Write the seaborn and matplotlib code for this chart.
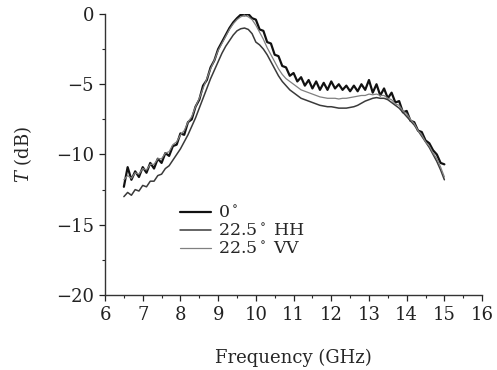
import numpy as np
import pandas as pd
import matplotlib
matplotlib.use("Agg")
import matplotlib.pyplot as plt
import seaborn as sns
from matplotlib.ticker import MultipleLocator

sns.set_theme(style="ticks")
plt.rcParams['font.family'] = ['DejaVu Serif']
plt.rcParams['mathtext.fontset'] = 'dejavuserif'

freq = [round(6.5 + 0.1 * i, 1) for i in range(86)]

t_0deg = [-12.3, -10.9, -11.8, -11.2, -11.6, -10.9, -11.3, -10.6, -11.0, -10.3,
          -10.6, -9.9, -10.1, -9.4, -9.3, -8.5, -8.6, -7.7, -7.5, -6.6,
          -6.1, -5.1, -4.7, -3.8, -3.3, -2.5, -2.0, -1.5, -1.0, -0.6,
          -0.3, -0.05, -0.1, 0.0, -0.3, -0.4, -1.1, -1.2, -2.0, -2.1,
          -2.9, -3.0, -3.7, -3.8, -4.4, -4.2, -4.8, -4.5, -5.1, -4.7,
          -5.3, -4.8, -5.4, -4.9, -5.4, -4.8, -5.3, -5.0, -5.4, -5.1,
          -5.5, -5.1, -5.5, -5.0, -5.4, -4.7, -5.6, -5.0, -5.8, -5.3,
          -6.0, -5.6, -6.3, -6.2, -7.0, -6.9, -7.6, -7.7, -8.3, -8.4,
          -9.0, -9.2, -9.7, -10.0, -10.6, -10.7]

t_hh = [-13.0, -12.7, -12.9, -12.5, -12.6, -12.2, -12.3, -11.9, -11.9, -11.5,
        -11.4, -11.0, -10.8, -10.4, -10.0, -9.6, -9.1, -8.6, -8.0, -7.4,
        -6.7, -6.0, -5.3, -4.6, -4.0, -3.4, -2.8, -2.3, -1.9, -1.5,
        -1.2, -1.05, -1.0, -1.1, -1.4, -2.0, -2.2, -2.5, -2.9, -3.4,
        -3.9, -4.4, -4.8, -5.1, -5.4, -5.6, -5.8, -6.0, -6.1, -6.2,
        -6.3, -6.4, -6.5, -6.55, -6.6, -6.6, -6.65, -6.7, -6.7, -6.7,
        -6.65, -6.6, -6.5, -6.35, -6.2, -6.1, -6.0, -5.95, -6.0, -6.0,
        -6.1, -6.3, -6.5, -6.7, -7.0, -7.3, -7.6, -7.9, -8.3, -8.7,
        -9.1, -9.5, -10.0, -10.5, -11.1, -11.8]

t_vv = [-11.8, -11.5, -11.7, -11.3, -11.4, -11.0, -11.1, -10.7, -10.7, -10.3,
        -10.3, -9.9, -9.8, -9.3, -9.1, -8.6, -8.3, -7.7, -7.3, -6.6,
        -6.0, -5.3, -4.6, -3.9, -3.3, -2.6, -2.1, -1.6, -1.1, -0.7,
        -0.4, -0.2, -0.1, -0.2, -0.4, -0.8, -1.3, -1.8, -2.4, -2.9,
        -3.4, -3.9, -4.3, -4.6, -4.8, -5.0, -5.2, -5.4, -5.5, -5.6,
        -5.7, -5.8, -5.9, -5.95, -6.0, -6.0, -6.0, -6.05, -6.0, -6.0,
        -5.95, -5.9, -5.85, -5.8, -5.8, -5.7, -5.75, -5.7, -5.8, -5.8,
        -6.0, -6.1, -6.4, -6.5, -6.9, -7.1, -7.5, -7.8, -8.3, -8.6,
        -9.1, -9.4, -9.9, -10.3, -10.9, -11.6]

labels = ["0$^\\circ$", "22.5$^\\circ$ HH", "22.5$^\\circ$ VV"]
x_ticks = list(range(6, 17))
y_ticks = [0, -5, -10, -15, -20]

fig = plt.figure(figsize=(4.97, 3.70), dpi=100)
ax = fig.add_axes([0.2113, 0.2027, 0.7587, 0.7595])

styles = [("#111111", 1.6), ("#3a3a3a", 1.1), ("#808080", 0.9)]
for lab, vals, (c, lw) in zip(labels, [t_0deg, t_hh, t_vv], styles):
    df = pd.DataFrame({"f": freq, "T": vals})
    sns.lineplot(data=df, x="f", y="T", ax=ax, color=c, linewidth=lw, label=lab)

ax.set_xlim(6, 16)
ax.set_ylim(-20, 0)
ax.set_xticks(x_ticks)
ax.set_yticks(y_ticks)
ax.set_yticklabels(["0", "\u22125", "\u221210", "\u221215", "\u221220"])
ax.xaxis.set_minor_locator(MultipleLocator(0.5))
ax.yaxis.set_minor_locator(MultipleLocator(2.5))
ax.tick_params(axis="both", which="major", direction="out", length=4, width=0.9,
               labelsize=13, colors="#222222", pad=4)
ax.tick_params(axis="both", which="minor", direction="out", length=2.5, width=0.8)
for s in ["top", "right"]:
    ax.spines[s].set_visible(False)
for s in ["left", "bottom"]:
    ax.spines[s].set_linewidth(1.0)
    ax.spines[s].set_color("#333333")

ax.set_xlabel("Frequency (GHz)", fontsize=13, labelpad=18)
ax.set_ylabel("$T$ (dB)", fontsize=13, labelpad=16)

leg = ax.legend(loc="upper left", bbox_to_anchor=(0.18, 0.345), frameon=False,
                fontsize=12.5, handlelength=1.8, labelspacing=0.05, handletextpad=0.4,
                borderaxespad=0)

fig.savefig("out.png", dpi=100)
